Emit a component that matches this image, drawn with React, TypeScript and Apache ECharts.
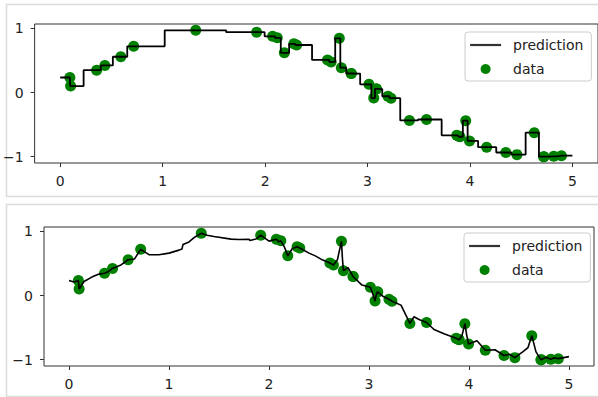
import React, { useEffect, useRef } from "react";
import * as echarts from "echarts";

// sample points (x sorted) and observed values
const dataX = [0.0939, 0.1011, 0.3552, 0.4356, 0.5914, 0.7168, 1.3228, 1.9172, 2.0733, 2.1183,
  2.1879, 2.2808, 2.3074, 2.6092, 2.6444, 2.7244, 2.7441, 2.8402, 2.8422, 3.0138,
  3.0605, 3.0847, 3.0882, 3.1996, 3.2295, 3.4091, 3.5759, 3.8712, 3.8908, 3.9026,
  3.9586, 3.9958, 4.1631, 4.3501, 4.4589, 4.628, 4.7187, 4.7233, 4.8183, 4.8931];
const dataY = [0.2343, 0.1009, 0.3478, 0.422, 0.5575, 0.72, 0.9694, 0.9404, 0.8765, 0.8532,
  0.6182, 0.7585, 0.7407, 0.5076, 0.4771, 0.845, 0.3871, 0.2968, 0.295, 0.1275,
  -0.0858, 0.0569, 0.0534, -0.058, -0.0878, -0.4349, -0.4208, -0.6666, -0.681, -0.6896,
  -0.4394, -0.7541, -0.8525, -0.9349, -0.9681, -0.6254, -1.0, -1.0, -0.9946, -0.9838];

// top panel: nearest-neighbour step prediction (levels change midway between samples)
const stepX = [0, 0.0939, 0.1011, 0.3552, 0.4356, 0.5914, 0.7168, 1.3228, 1.9172, 2.0733, 2.1183,
  2.1879, 2.2808, 2.3074, 2.6092, 2.6444, 2.7244, 2.7441, 2.8402, 2.8422, 3.0138,
  3.0605, 3.0847, 3.0882, 3.1996, 3.2295, 3.4091, 3.5759, 3.8712, 3.8908, 3.9026,
  3.9586, 3.9958, 4.1631, 4.3501, 4.4589, 4.628, 4.7187, 4.7233, 4.8183, 4.8931, 5];
const stepY = [0.2343, 0.2343, 0.1009, 0.3478, 0.422, 0.5575, 0.72, 0.9694, 0.9404, 0.8765, 0.8532,
  0.6182, 0.7585, 0.7407, 0.5076, 0.4771, 0.845, 0.3871, 0.2968, 0.295, 0.1275,
  -0.0858, 0.0569, 0.0534, -0.058, -0.0878, -0.4349, -0.4208, -0.6666, -0.681, -0.6896,
  -0.4394, -0.7541, -0.8525, -0.9349, -0.9681, -0.6254, -1.0, -1.0, -0.9946, -0.9838, -0.9838];

// bottom panel: distance-weighted prediction curve
const curveX = [0, 0.05, 0.0939, 0.0975, 0.1011, 0.15, 0.228, 0.3, 0.3552, 0.395, 0.4356, 0.513,
  0.5914, 0.654, 0.7168, 0.8, 0.9, 1.0, 1.1, 1.13, 1.14, 1.2, 1.26, 1.3228, 1.38, 1.45, 1.62,
  1.7, 1.8, 1.81, 1.87, 1.9172, 2.0, 2.0733, 2.096, 2.1183, 2.153, 2.1879, 2.234, 2.2808,
  2.294, 2.3074, 2.4, 2.458, 2.52, 2.6092, 2.627, 2.6444, 2.684, 2.7244, 2.734, 2.7441,
  2.79, 2.8402, 2.8422, 2.93, 3.0138, 3.037, 3.0605, 3.0726, 3.0847, 3.0882, 3.144, 3.1996,
  3.2295, 3.32, 3.4091, 3.45, 3.5, 3.5759, 3.65, 3.75, 3.8712, 3.8908, 3.9026, 3.93, 3.9586,
  3.977, 3.9958, 4.08, 4.1631, 4.26, 4.3501, 4.405, 4.4589, 4.54, 4.59, 4.628, 4.67, 4.7187,
  4.7233, 4.77, 4.8183, 4.856, 4.8931, 5.0];
const curveY = [0.2335, 0.211, 0.2343, 0.167, 0.1009, 0.218, 0.2875, 0.334, 0.3478, 0.375, 0.422, 0.471,
  0.5575, 0.568, 0.72, 0.6375, 0.636, 0.661, 0.7076, 0.7267, 0.795, 0.835, 0.913, 0.9694, 0.939, 0.919, 0.879,
  0.873, 0.8765, 0.857, 0.881, 0.9404, 0.848, 0.8765, 0.839, 0.8532, 0.759, 0.6182, 0.734, 0.7585,
  0.75, 0.7407, 0.661, 0.622, 0.5665, 0.5076, 0.49, 0.4771, 0.5565, 0.845, 0.584, 0.3871,
  0.4357, 0.2968, 0.295, 0.1625, 0.1275, 0.0281, -0.0858, 0.0108, 0.0569, 0.0534, -0.0155, -0.058,
  -0.0878, -0.1497, -0.4349, -0.331, -0.373, -0.4208, -0.53, -0.597, -0.6666, -0.681, -0.6896, -0.625, -0.4394,
  -0.616, -0.7541, -0.704, -0.8525, -0.845, -0.9349, -0.916, -0.9681, -0.875, -0.811, -0.6254, -0.878, -1.0,
  -1.0, -0.9625, -0.9946, -0.9693, -0.9838, -0.952];

const xTicks = [0, 1, 2, 3, 4, 5];
const yTicks = [-1, 0, 1];

const FONT = "DejaVu Sans";

export default function App() {
  const ref = useRef<HTMLDivElement>(null);
  useEffect(() => {
    if (!ref.current) return;
    const chart = echarts.init(ref.current, null, { renderer: "svg" });
    const pts = dataX.map((x, i) => [x, dataY[i]]);
    const stepPts = stepX.map((x, i) => [x, stepY[i]]);
    const curvePts = curveX.map((x, i) => [x, curveY[i]]);
    const fmt = (v: number) => (v < 0 ? "\u2212" + Math.abs(v) : String(v));
    const mkX = (gi: number) => ({
      gridIndex: gi, type: "value", min: -0.25, max: 5.25,
      axisLine: { show: false, onZero: false },
      splitLine: { show: false },
      axisTick: { show: true, customValues: xTicks, length: 4, lineStyle: { color: "#333" } },
      axisLabel: { customValues: xTicks, margin: 11, color: "#222", fontFamily: FONT, fontSize: 14, formatter: fmt },
    });
    const mkY = (gi: number) => ({
      gridIndex: gi, type: "value", min: -1.0985, max: 1.068,
      axisLine: { show: false, onZero: false },
      splitLine: { show: false },
      axisTick: { show: true, customValues: yTicks, length: 4, lineStyle: { color: "#333" } },
      axisLabel: { customValues: yTicks, margin: 11, color: "#222", fontFamily: FONT, fontSize: 14, formatter: fmt },
    });
    const mkLegend = (left: number, top: number) => ({
      orient: "vertical", left, top,
      data: [
        { name: "prediction", itemStyle: { opacity: 0 }, lineStyle: { color: "#333", width: 2.2 } },
        { name: "data", icon: "circle" },
      ],
      itemWidth: 31, itemHeight: 10, itemGap: 10,
      padding: [6, 8, 5, 4],
      backgroundColor: "rgba(255,255,255,0.8)",
      borderColor: "#ccc", borderWidth: 1, borderRadius: 3,
      selectedMode: false,
      textStyle: { fontFamily: FONT, fontSize: 14, color: "#222", lineHeight: 14, padding: [0, 0, 0, 7] },
    });
    chart.setOption({
      animation: false,
      textStyle: { fontFamily: FONT },
      graphic: [
        { type: "rect", z: -10, shape: { x: 6.5, y: 4.5, width: 640, height: 192 }, style: { fill: "none", stroke: "#dcdcdc", lineWidth: 1.5 } },
        { type: "rect", z: -10, shape: { x: 6.5, y: 204.5, width: 640, height: 192 }, style: { fill: "none", stroke: "#dcdcdc", lineWidth: 1.5 } },
      ],
      grid: [
        { left: 32, top: 24, width: 566, height: 139, show: true, borderColor: "#333", borderWidth: 1, backgroundColor: "transparent" },
        { left: 44, top: 227, width: 550, height: 139, show: true, borderColor: "#333", borderWidth: 1, backgroundColor: "transparent" },
      ],
      xAxis: [mkX(0), mkX(1)],
      yAxis: [mkY(0), mkY(1)],
      legend: [mkLegend(465, 32), mkLegend(464, 233)],
      series: [
        { name: "data", type: "scatter", xAxisIndex: 0, yAxisIndex: 0, data: pts, symbolSize: 11, itemStyle: { color: "#008000", opacity: 1 }, z: 2 },
        { name: "prediction", type: "line", xAxisIndex: 0, yAxisIndex: 0, data: stepPts, step: "middle", symbol: "none", lineStyle: { color: "#000", width: 1.8 }, itemStyle: { color: "#000" }, z: 3 },
        { name: "data", type: "scatter", xAxisIndex: 1, yAxisIndex: 1, data: pts, symbolSize: 11, itemStyle: { color: "#008000", opacity: 1 }, z: 2 },
        { name: "prediction", type: "line", xAxisIndex: 1, yAxisIndex: 1, data: curvePts, symbol: "none", lineStyle: { color: "#000", width: 1.6 }, itemStyle: { color: "#000" }, z: 3 },
      ],
    });
    return () => chart.dispose();
  }, []);
  return <div ref={ref} style={{ position: "absolute", left: 0, top: 0, width: 598, height: 397, background: "#fff" }} />;
}
